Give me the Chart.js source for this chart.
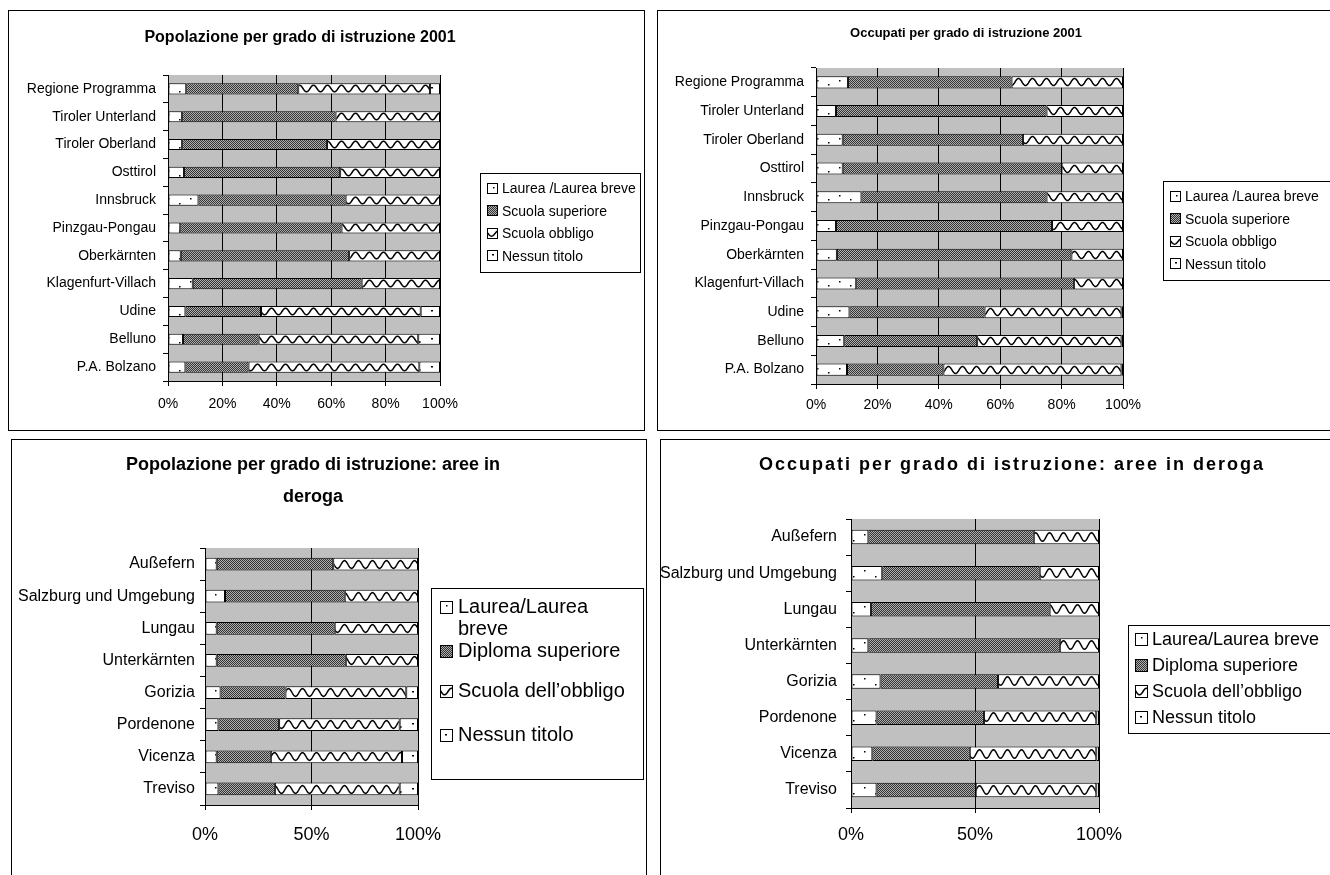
<!DOCTYPE html>
<html>
<head>
<meta charset="utf-8">
<script src="https://cdn.jsdelivr.net/npm/chart.js@4.4.1/dist/chart.umd.min.js"></script>
<style>
body { margin: 0; background: #fff; overflow: hidden; width: 1330px; height: 875px; position: relative; font-family: Arial, "Liberation Sans", sans-serif; }
.panel { position: absolute; border: 1px solid #000; box-sizing: border-box; }
.cv { position: absolute; }
.legend { position: absolute; border: 1px solid #000; background: #fff; box-sizing: border-box; color: #000; }
.legend .item { display: flex; align-items: center; white-space: normal; }
.legend canvas { border: 1px solid #000; flex: none; }
</style>
</head>
<body>
<div class="panel" style="left:8px;top:10px;width:637px;height:421px"></div>
<div class="panel" style="left:657px;top:10px;width:700px;height:421px"></div>
<div class="panel" style="left:11px;top:439px;width:636px;height:500px"></div>
<div class="panel" style="left:660px;top:439px;width:700px;height:500px"></div>

<canvas id="c1" class="cv" width="582" height="415" style="left:9px;top:11px"></canvas>
<canvas id="c2" class="cv" width="616" height="412" style="left:658px;top:11px"></canvas>
<canvas id="c3" class="cv" width="602" height="425" style="left:12px;top:440px"></canvas>
<canvas id="c4" class="cv" width="702" height="420" style="left:661px;top:440px"></canvas>

<div id="l1" class="legend" style="left:480px;top:173px;width:161px;padding:3px 0 5px 6px;font-size:14px"></div>
<div id="l2" class="legend" style="left:1163px;top:181px;width:200px;padding:3px 0 5px 6px;font-size:14px"></div>
<div id="l3" class="legend" style="left:431px;top:588px;width:213px;height:192px;padding:6px 4px 0 8px;font-size:20px"></div>
<div id="l4" class="legend" style="left:1128px;top:625px;width:220px;padding:0 0 3px 6px;font-size:18px"></div>

<script>
const FONT = 'Arial, "Liberation Sans", sans-serif';

// --- data ---
const areas2001 = ['Regione Programma', 'Tiroler Unterland', 'Tiroler Oberland', 'Osttirol', 'Innsbruck', 'Pinzgau-Pongau', 'Oberkärnten', 'Klagenfurt-Villach', 'Udine', 'Belluno', 'P.A. Bolzano'];
const areasDeroga = ['Außefern', 'Salzburg und Umgebung', 'Lungau', 'Unterkärnten', 'Gorizia', 'Pordenone', 'Vicenza', 'Treviso'];

const series2001 = ['Laurea /Laurea breve', 'Scuola superiore', 'Scuola obbligo', 'Nessun titolo'];
const seriesDeroga = ['Laurea/Laurea breve', 'Diploma superiore', 'Scuola dell\u2019obbligo', 'Nessun titolo'];

// Popolazione 2001 (%)
const popLaurea = [6.7, 5.2, 5.2, 5.9, 11.2, 4.5, 4.7, 9.1, 6.4, 5.5, 6.4];
const popSuperiore = [41.2, 56.4, 53.3, 57.4, 54.1, 59.3, 61.9, 62.1, 27.8, 27.8, 23.2];
const popObbligo = [48.4, 38.4, 41.5, 36.7, 34.7, 36.2, 33.4, 28.8, 58.7, 58.7, 62.8];
const popNessun = [3.7, 0, 0, 0, 0, 0, 0, 0, 7.1, 8.0, 7.6];

// Occupati 2001 (%)
const occLaurea = [10.4, 6.5, 8.7, 8.7, 14.8, 6.5, 6.8, 13.1, 10.9, 9.2, 10.1];
const occSuperiore = [53.3, 68.6, 58.7, 71.3, 60.3, 70.4, 76.4, 70.9, 44.0, 43.3, 31.4];
const occObbligo = [36.3, 24.9, 32.6, 20.0, 24.9, 23.1, 16.8, 16.0, 44.6, 47.0, 58.0];
const occNessun = [0, 0, 0, 0, 0, 0, 0, 0, 0.5, 0.5, 0.5];

// Popolazione aree in deroga (%)
const popDerLaurea = [5.5, 9.4, 5.5, 5.5, 7.3, 6.3, 5.5, 6.3];
const popDerDiploma = [54.7, 56.2, 55.4, 60.6, 30.5, 28.5, 25.4, 26.5];
const popDerObbligo = [39.8, 34.4, 39.1, 33.9, 56.7, 56.6, 61.6, 58.6];
const popDerNessun = [0, 0, 0, 0, 5.5, 8.6, 7.5, 8.6];

// Occupati aree in deroga (%)
const occDerLaurea = [7.0, 12.6, 8.1, 7.0, 11.9, 10.3, 8.6, 10.3];
const occDerDiploma = [66.7, 63.5, 72.0, 77.2, 47.4, 43.3, 39.3, 40.0];
const occDerObbligo = [26.3, 23.9, 19.9, 15.8, 40.7, 45.3, 51.0, 48.6];
const occDerNessun = [0, 0, 0, 0, 0, 1.1, 1.1, 1.1];

const kinds = ['dots', 'grain', 'wave', 'specks'];

// --- fill patterns (Excel-like black & white) ---
function makeTile(kind, h) {
  const c = document.createElement('canvas');
  const g = c.getContext('2d');
  if (kind === 'grain') {
    c.width = 2; c.height = 2;
    g.fillStyle = '#b0b0b0'; g.fillRect(0, 0, 2, 2);
    g.fillStyle = '#333'; g.fillRect(0, 0, 1, 1); g.fillRect(1, 1, 1, 1);
    return c;
  }
  c.height = h;
  if (kind === 'wave') {
    c.width = 14;
    g.fillStyle = '#fff'; g.fillRect(0, 0, 14, h);
    g.strokeStyle = '#000'; g.lineWidth = 1.5;
    g.beginPath();
    for (let x = -1; x <= 15; x += 0.5) {
      const y = h / 2 + h * 0.3 * Math.sin(x / 14 * Math.PI * 2);
      if (x === -1) g.moveTo(x, y); else g.lineTo(x, y);
    }
    g.stroke();
    return c;
  }
  c.width = 22;
  g.fillStyle = '#fff'; g.fillRect(0, 0, 22, h);
  g.fillStyle = '#000';
  if (kind === 'dots') {
    g.fillRect(5, Math.round(h * 0.3), 1.5, 1.5);
    g.fillRect(16, Math.round(h * 0.7), 1.5, 1.5);
  } else {
    g.fillRect(4, Math.round(h * 0.35), 2, 1.5);
    g.fillRect(14, Math.round(h * 0.65), 1.5, 2);
  }
  return c;
}

function barFill(kind, bar) {
  return function (ctx) {
    const chart = ctx.chart;
    const ys = chart.scales.y;
    if (ctx.type !== 'data' || !ys) return '#ffffff';
    const bh = ys.height / chart.data.labels.length * bar;
    const mid = ys.getPixelForValue(ctx.dataIndex);
    if (!isFinite(bh) || bh <= 0 || !isFinite(mid)) return '#ffffff';
    const pat = chart.ctx.createPattern(makeTile(kind, Math.max(2, Math.round(bh))), 'repeat');
    pat.setTransform(new DOMMatrix([1, 0, 0, 1, 0, Math.round(mid - bh / 2)]));
    return pat;
  };
}

// grey plot area like the Excel default
const plotBg = {
  id: 'plotBg',
  beforeDraw(chart) {
    const a = chart.chartArea;
    const c = chart.ctx;
    c.save();
    c.fillStyle = '#c0c0c0';
    c.fillRect(a.left, a.top, a.right - a.left, a.bottom - a.top);
    c.restore();
  }
};

function makeChart(id, labels, values, o) {
  const canvas = document.getElementById(id);
  const W = canvas.width, H = canvas.height;
  const chart = new Chart(canvas, {
    type: 'bar',
    data: {
      labels: labels,
      datasets: values.map((v, i) => ({
        data: v,
        backgroundColor: barFill(kinds[i], o.bar),
        borderColor: '#000',
        borderWidth: 1,
        borderSkipped: false,
        barPercentage: o.bar,
        categoryPercentage: 1
      }))
    },
    options: {
      indexAxis: 'y',
      responsive: false,
      animation: false,
      events: [],
      layout: { padding: 0 },
      plugins: {
        legend: { display: false },
        tooltip: { enabled: false },
        title: {
          display: true,
          text: o.title,
          color: '#000',
          font: { family: FONT, size: o.titleSize, weight: 'bold', lineHeight: o.titleLH },
          padding: { top: o.titlePad[0], bottom: o.titlePad[1] }
        }
      },
      scales: {
        x: {
          stacked: true, min: 0, max: 100,
          ticks: { stepSize: o.step, callback: v => v + '%', color: '#000', font: { family: FONT, size: o.xSize }, padding: o.xPad, maxRotation: 0 },
          grid: { color: '#000', lineWidth: 1, tickLength: 5, tickColor: '#000' },
          border: { color: '#000', width: 1 },
          afterFit: s => { s.height = H - o.area[3]; }
        },
        y: {
          stacked: true,
          ticks: { color: '#000', font: { family: FONT, size: o.ySize }, padding: o.yPad, autoSkip: false },
          grid: { offset: true, drawOnChartArea: false, color: '#000', tickLength: 5 },
          border: { color: '#000', width: 1 },
          afterFit: s => { s.width = o.area[0]; }
        },
        pad: {
          type: 'linear', position: 'right', display: true,
          ticks: { display: false }, grid: { display: false }, border: { display: false },
          afterFit: s => { s.width = W - o.area[1]; }
        }
      }
    },
    plugins: [plotBg]
  });
  // wider letter spacing on the title, as in the original Excel export
  if (o.titleSpacing && chart.titleBlock) {
    const tb = chart.titleBlock;
    const orig = tb.draw.bind(tb);
    tb.draw = function () {
      const c = chart.ctx;
      c.save();
      c.letterSpacing = o.titleSpacing + 'px';
      orig();
      c.restore();
    };
  }
  chart.update();
  return chart;
}

function makeLegend(id, names, o) {
  const box = document.getElementById(id);
  names.forEach((name, i) => {
    const item = document.createElement('div');
    item.className = 'item';
    item.style.minHeight = o.rowH + 'px';
    item.style.lineHeight = o.lineH + 'px';
    if (o.gaps) item.style.marginBottom = o.gaps[i] + 'px';
    const sw = document.createElement('canvas');
    sw.width = o.sw; sw.height = o.sw;
    sw.style.marginRight = o.gap + 'px';
    const g = sw.getContext('2d');
    g.fillStyle = g.createPattern(makeTile(kinds[i], o.sw), 'repeat');
    g.fillRect(0, 0, o.sw, o.sw);
    if (o.top) { item.style.alignItems = 'flex-start'; sw.style.marginTop = o.top + 'px'; }
    const t = document.createElement('span');
    t.textContent = name;
    item.appendChild(sw);
    item.appendChild(t);
    box.appendChild(item);
  });
}

makeChart('c1', areas2001, [popLaurea, popSuperiore, popObbligo, popNessun], {
  title: 'Popolazione per grado di istruzione 2001', titleSize: 16, titleLH: 1.2, titlePad: [17.4, 27.4],
  area: [159, 431, 64, 370], bar: 0.4, step: 20, xSize: 14, xPad: 10, ySize: 14, yPad: 7
});
makeChart('c2', areas2001, [occLaurea, occSuperiore, occObbligo, occNessun], {
  title: 'Occupati per grado di istruzione 2001', titleSize: 13, titleLH: 1.2, titlePad: [14.2, 27.2],
  area: [158, 465, 57, 373], bar: 0.42, step: 20, xSize: 14, xPad: 8, ySize: 14, yPad: 7
});
makeChart('c3', areasDeroga, [popDerLaurea, popDerDiploma, popDerObbligo, popDerNessun], {
  title: ['Popolazione per grado di istruzione: aree in', 'deroga'], titleSize: 18, titleLH: '32px', titlePad: [9, 35],
  area: [193, 406, 108, 365], bar: 0.4, step: 50, xSize: 18, xPad: 14, ySize: 16, yPad: 5
});
makeChart('c4', areasDeroga, [occDerLaurea, occDerDiploma, occDerObbligo, occDerNessun], {
  title: 'Occupati per grado di istruzione: aree in deroga', titleSize: 18, titleLH: 1.2, titlePad: [14.2, 43.2], titleSpacing: 2,
  area: [190, 438, 79, 368], bar: 0.4, step: 50, xSize: 18, xPad: 11, ySize: 16, yPad: 9
});

makeLegend('l1', series2001, { rowH: 22.5, lineH: 22.5, sw: 9, gap: 4 });
makeLegend('l2', series2001, { rowH: 22.5, lineH: 22.5, sw: 9, gap: 4 });
makeLegend('l3', seriesDeroga, { rowH: 24, lineH: 22, sw: 11, gap: 5, top: 6, gaps: [0, 16, 20, 0] });
makeLegend('l4', seriesDeroga, { rowH: 26, lineH: 26, sw: 11, gap: 4 });
</script>
</body>
</html>
